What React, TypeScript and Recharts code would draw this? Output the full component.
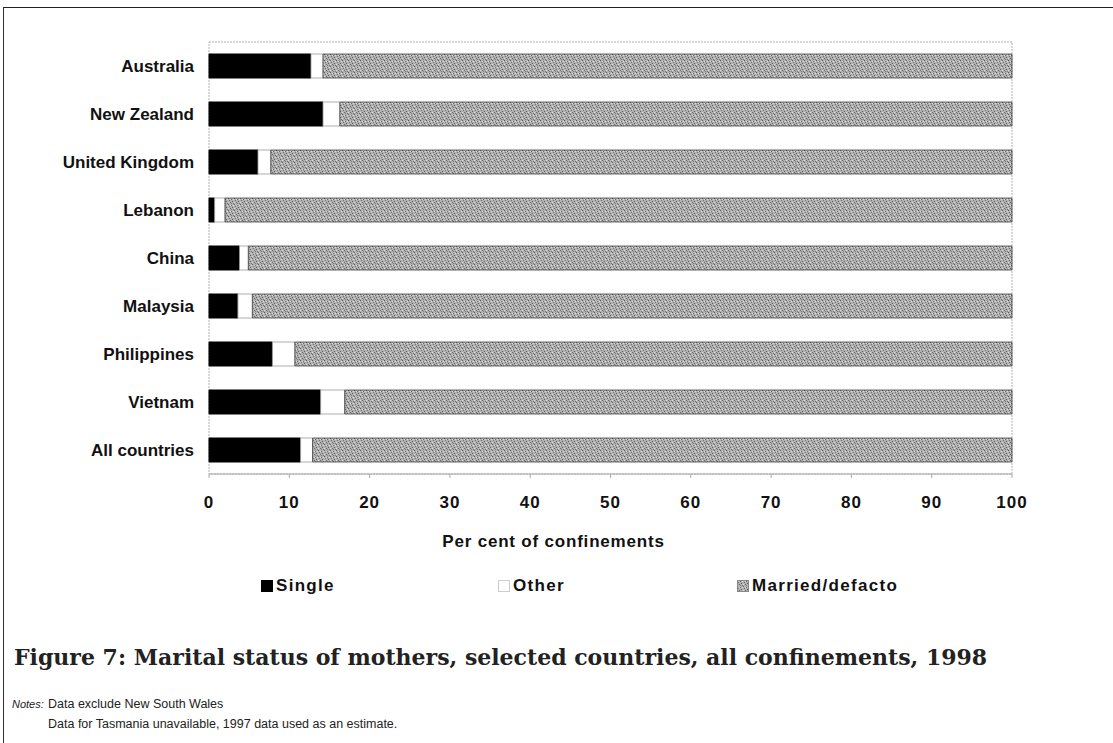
import React from "react";
import { BarChart, Bar, XAxis, YAxis, ReferenceArea } from "recharts";

// values (per cent of confinements)
const countries = [
  "Australia",
  "New Zealand",
  "United Kingdom",
  "Lebanon",
  "China",
  "Malaysia",
  "Philippines",
  "Vietnam",
  "All countries",
];
const single = [12.7, 14.2, 6.1, 0.7, 3.8, 3.6, 7.9, 13.9, 11.4];
const other = [1.5, 2.1, 1.6, 1.3, 1.1, 1.8, 2.8, 3.0, 1.5];
const married = [85.8, 83.7, 92.3, 98.0, 95.1, 94.6, 89.3, 83.1, 87.1];
const xTicks = [0, 10, 20, 30, 40, 50, 60, 70, 80, 90, 100];

const data = countries.map((name, i) => ({
  name,
  Single: single[i],
  Other: other[i],
  "Married/defacto": married[i],
}));

const FONT = "'Liberation Sans', Arial, sans-serif";

const legendItems = [
  { label: "Single", fill: "#000", stroke: "#000", dash: undefined, left: 261 },
  { label: "Other", fill: "#fff", stroke: "#999", dash: "1 1", left: 498 },
  { label: "Married/defacto", fill: "url(#stippleLegend)", stroke: "#888", dash: undefined, left: 737 },
];

function Stipple({ id }: { id: string }) {
  return (
    <pattern id={id} width={6} height={6} patternUnits="userSpaceOnUse">
      <rect width={6} height={6} fill="#b2b2b2" />
      <rect x={0} y={0} width={1} height={1} fill="#555" />
      <rect x={3} y={1} width={1} height={1} fill="#666" />
      <rect x={1} y={2} width={1} height={1} fill="#707070" />
      <rect x={4} y={3} width={1} height={1} fill="#555" />
      <rect x={2} y={4} width={1} height={1} fill="#666" />
      <rect x={5} y={5} width={1} height={1} fill="#707070" />
      <rect x={5} y={1} width={1} height={1} fill="#dcdcdc" />
      <rect x={2} y={1} width={1} height={1} fill="#dcdcdc" />
      <rect x={0} y={4} width={1} height={1} fill="#dcdcdc" />
      <rect x={3} y={5} width={1} height={1} fill="#808080" />
    </pattern>
  );
}

export default function App() {
  return (
    <div
      style={{
        position: "absolute",
        left: 0,
        top: 0,
        width: 1113,
        height: 743,
        background: "#fff",
        overflow: "hidden",
      }}
    >
      {/* frame lines */}
      <div style={{ position: "absolute", left: 3, top: 7, width: 1110, height: 0, borderTop: "1.5px solid #222" }} />
      <div style={{ position: "absolute", left: 3, top: 7, width: 0, height: 736, borderLeft: "1.5px solid #333" }} />

      <div style={{ position: "absolute", left: 0, top: 0 }}>
        <BarChart
          width={1113}
          height={560}
          data={data}
          layout="vertical"
          barSize={24}
          margin={{ top: 42, right: 101, bottom: 13, left: 0 }}
        >
          <defs>
            <Stipple id="stipple" />
          </defs>
          <ReferenceArea x1={0} x2={100} fill="none" stroke="#b0b0b0" strokeDasharray="2 1" ifOverflow="visible" />
          <XAxis
            type="number"
            domain={[0, 100]}
            ticks={xTicks}
            axisLine={{ stroke: "#aaa" }}
            tickLine={{ stroke: "#aaa" }}
            tickSize={4}
            tickMargin={18}
            height={73}
            tick={{ fontSize: 17, fontWeight: "bold", fill: "#111", fontFamily: FONT, letterSpacing: 1 }}
            label={{
              value: "Per cent of confinements",
              position: "insideBottom",
              offset: 0,
              dx: -57,
              style: { fontSize: 17, fontWeight: "bold", fill: "#111", fontFamily: FONT, letterSpacing: 0.8 },
            }}
          />
          <YAxis
            type="category"
            dataKey="name"
            width={209}
            axisLine={false}
            tickLine={false}
            tickMargin={9}
            tick={{ fontSize: 17, fontWeight: "bold", fill: "#111", fontFamily: FONT }}
          />
          <Bar dataKey="Single" stackId="a" fill="#000" stroke="#000" isAnimationActive={false} />
          <Bar dataKey="Other" stackId="a" fill="#fff" stroke="#999" strokeWidth={0.8} isAnimationActive={false} />
          <Bar
            dataKey="Married/defacto"
            stackId="a"
            fill="url(#stipple)"
            stroke="#444"
            strokeWidth={0.8}
            isAnimationActive={false}
          />
        </BarChart>
      </div>

      {/* legend */}
      <div style={{ position: "absolute", left: 0, top: 574, width: 1113, height: 24, fontFamily: FONT }}>
        {legendItems.map((it) => (
          <div
            key={it.label}
            style={{ position: "absolute", left: it.left, top: 0, display: "flex", alignItems: "center", height: 24 }}
          >
            <svg width={12} height={12} style={{ marginRight: 3 }}>
              <defs>
                <Stipple id="stippleLegend" />
              </defs>
              <rect
                x={0.5}
                y={0.5}
                width={11}
                height={11}
                fill={it.fill}
                stroke={it.stroke}
                strokeDasharray={it.dash}
                strokeWidth={1}
              />
            </svg>
            <span style={{ fontSize: 17, fontWeight: "bold", color: "#111", letterSpacing: 1.3 }}>{it.label}</span>
          </div>
        ))}
      </div>

      <div
        style={{
          position: "absolute",
          left: 14,
          top: 644,
          fontFamily: "'DejaVu Serif', serif",
          fontSize: 22,
          fontWeight: "bold",
          color: "#222",
          whiteSpace: "nowrap",
        }}
      >
        Figure 7: Marital status of mothers, selected countries, all confinements, 1998
      </div>
      {/* notes */}
      <div
        style={{
          position: "absolute",
          left: 12,
          top: 694,
          fontFamily: FONT,
          fontSize: 11,
          fontStyle: "italic",
          color: "#222",
          lineHeight: "20px",
        }}
      >
        Notes:
      </div>
      <div
        style={{
          position: "absolute",
          left: 48,
          top: 694,
          fontFamily: FONT,
          fontSize: 12.5,
          color: "#222",
          lineHeight: "20px",
          whiteSpace: "nowrap",
        }}
      >
        <div>Data exclude New South Wales</div>
        <div>Data for Tasmania unavailable, 1997 data used as an estimate.</div>
      </div>
    </div>
  );
}
